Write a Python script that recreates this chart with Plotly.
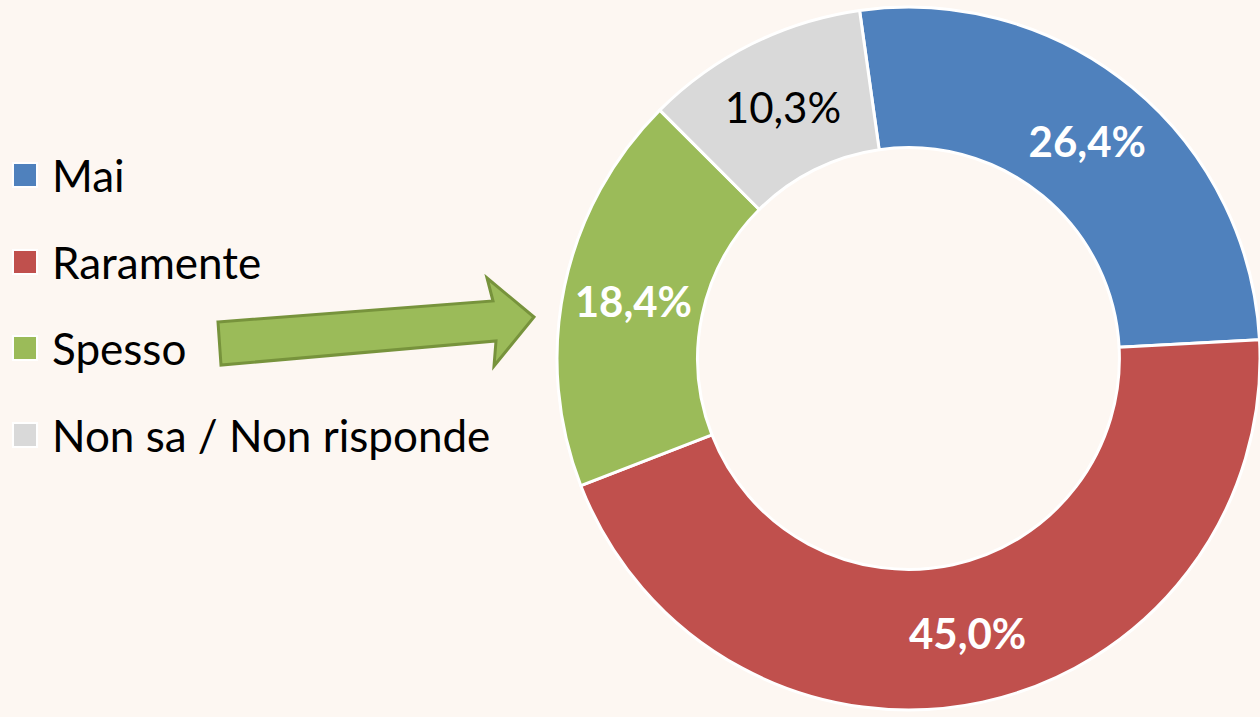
import plotly.graph_objects as go

categories = ["Mai", "Raramente", "Spesso", "Non sa / Non risponde"]
values = [26.4, 45.0, 18.4, 10.3]
colors = ["#4F81BD", "#C0504D", "#9BBB59", "#D9D9D9"]
label_colors = ["white", "white", "white", "black"]
label_bold = [True, True, True, False]

W, H = 1260, 717
BG = "#FDF7F2"
FONT = "Lato"


def fmt(v, bold):
    s = f"{v:.1f}".replace(".", ",") + "%"
    return f"<b>{s}</b>" if bold else s


texts = [fmt(v, b) for v, b in zip(values, label_bold)]

fig = go.Figure()
fig.add_trace(go.Pie(
    labels=categories,
    values=values,
    text=texts,
    textinfo="text",
    textposition="inside",
    insidetextorientation="horizontal",
    textfont=dict(family=FONT, size=42, color=label_colors),
    marker=dict(colors=colors, line=dict(color="white", width=3)),
    hole=0.6,
    sort=False,
    direction="clockwise",
    rotation=-8,
    domain=dict(x=[557 / W, 1], y=[0, 1]),
    showlegend=False,
    hoverinfo="label+percent",
))

# custom legend (square + label), placed from the category lists
legend_y = [175, 262, 348, 435]
shapes = []
annotations = []
for cat, col, py in zip(categories, colors, legend_y):
    shapes.append(dict(type="rect", xref="paper", yref="paper",
                       x0=13 / W, x1=37 / W, y0=1 - (py + 12) / H, y1=1 - (py - 12) / H,
                       fillcolor=col, line=dict(color="white", width=2)))
    annotations.append(dict(x=50 / W, y=1 - py / H, xref="paper", yref="paper",
                            text=cat, showarrow=False, xanchor="left", yanchor="middle",
                            font=dict(family=FONT, size=44, color="black")))

# green block arrow pointing to "Spesso"
arrow_pts = [(218, 322), (493, 301), (487, 278), (534, 317), (494, 366), (496, 341), (221, 365)]
path = "M " + " L ".join(f"{x / W},{1 - y / H}" for x, y in arrow_pts) + " Z"
shapes.append(dict(type="path", xref="paper", yref="paper", path=path,
                   fillcolor="#9BBB59", line=dict(color="#77933C", width=3)))

fig.update_layout(
    width=W, height=H,
    margin=dict(l=0, r=0, t=0, b=0),
    paper_bgcolor=BG, plot_bgcolor=BG,
    shapes=shapes,
    annotations=annotations,
    font=dict(family=FONT),
)

fig.write_html(
    "out.html",
    config={"displayModeBar": False},
    post_script="document.body.style.margin='0';document.body.style.background='" + BG + "';",
)
